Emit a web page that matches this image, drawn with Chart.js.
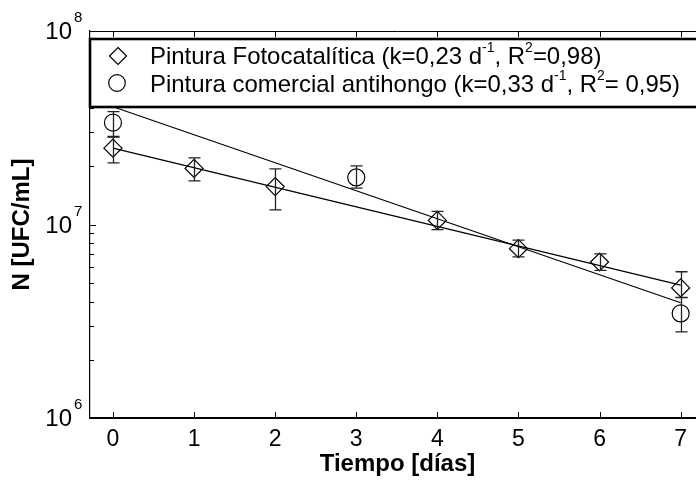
<!DOCTYPE html>
<html lang="es">
<head>
<meta charset="UTF-8">
<title>Inactivación con pinturas</title>
<script src="https://cdn.jsdelivr.net/npm/chart.js"></script>
<style>
  html, body { margin: 0; padding: 0; background: #fff; overflow: hidden; }
  #wrap { width: 720px; height: 481px; }
</style>
</head>
<body>
<div id="wrap"><canvas id="grafico" width="720" height="481"></canvas></div>
<script>
// valores
const fotoDias = [0, 1, 2, 4, 5, 6, 7];
const fotoN    = [2.48e7, 1.95e7, 1.57e7, 1.05e7, 7.5e6, 6.4e6, 4.7e6];
const fotoMin  = [2.08e7, 1.68e7, 1.19e7, 9.4e6, 6.8e6, 5.8e6, 4.2e6];
const fotoMax  = [2.83e7, 2.21e7, 1.94e7, 1.17e7, 8.3e6, 7.05e6, 5.7e6];

const comDias = [0, 3, 7];
const comN    = [3.36e7, 1.75e7, 3.47e6];
const comMin  = [2.85e7, 1.54e7, 2.79e6];
const comMax  = [3.83e7, 2.01e7, 4.19e6];

// rectas de ajuste (extremos)
const ajusteDias = [0, 7];
const fotoAjuste = [2.48e7, 4.86e6];
const comAjuste  = [4.06e7, 3.94e6];

const yTicks = [1e6, 1e7, 1e8];
const yExp   = ['6', '7', '8'];

// textos de la leyenda: [texto, superindice]
const leyenda1 = [['Pintura Fotocatalítica (k=0,23 d', false], ['-1', true], [', R', false], ['2', true], ['=0,98)', false]];
const leyenda2 = [['Pintura comercial antihongo (k=0,33 d', false], ['-1', true], [', R', false], ['2', true], ['= 0,95)', false]];

const FUENTE = '"Liberation Sans", Arial, sans-serif';

function puntos(xs, ys) {
    return xs.map((d, i) => ({ x: d, y: ys[i] }));
}

function anchoTexto(ctx, partes) {
    let w = 0;
    partes.forEach(([t, sup]) => {
        ctx.font = (sup ? '14px ' : '24px ') + FUENTE;
        w += ctx.measureText(t).width;
    });
    return w;
}

function textoLeyenda(ctx, x, yb, partes, sx) {
    ctx.save();
    ctx.translate(x, yb);
    ctx.scale(sx, 1);
    let cx = 0;
    partes.forEach(([t, sup]) => {
        ctx.font = (sup ? '14px ' : '24px ') + FUENTE;
        ctx.fillText(t, cx, sup ? -12 : 0);
        cx += ctx.measureText(t).width;
    });
    ctx.restore();
}

const extras = {
    id: 'extras',
    afterDatasetsDraw(chart) {
        const ctx = chart.ctx, sx = chart.scales.x, sy = chart.scales.y, a = chart.chartArea;
        ctx.save();

        // barras de error
        ctx.strokeStyle = '#222';
        ctx.lineWidth = 1.3;
        function barras(xs, lo, hi) {
            xs.forEach((d, i) => {
                const px = Math.round(sx.getPixelForValue(d)) + 0.5;
                const p1 = sy.getPixelForValue(lo[i]);
                const p2 = sy.getPixelForValue(hi[i]);
                ctx.beginPath();
                ctx.moveTo(px, p1); ctx.lineTo(px, p2);
                ctx.moveTo(px - 6, p1); ctx.lineTo(px + 6, p1);
                ctx.moveTo(px - 6, p2); ctx.lineTo(px + 6, p2);
                ctx.stroke();
            });
        }
        barras(fotoDias, fotoMin, fotoMax);
        barras(comDias, comMin, comMax);

        // marcas de los ejes (hacia adentro)
        ctx.strokeStyle = '#000';
        ctx.lineWidth = 1;
        ctx.beginPath();
        ctx.moveTo(a.left, a.top + 0.5); ctx.lineTo(a.right, a.top + 0.5);
        sx.ticks.forEach(t => {
            const px = Math.round(sx.getPixelForValue(t.value)) + 0.5;
            ctx.moveTo(px, a.bottom); ctx.lineTo(px, a.bottom - 6);
            ctx.moveTo(px, a.top); ctx.lineTo(px, a.top + 6);
        });
        for (let dec = 1e6; dec < 1e8; dec *= 10) {
            for (let m = 1; m < 10; m++) {
                const py = Math.round(sy.getPixelForValue(dec * m)) + 0.5;
                ctx.moveTo(a.left, py); ctx.lineTo(a.left + (m === 1 ? 6 : 4), py);
            }
        }
        ctx.stroke();

        // etiquetas del eje y con exponente
        ctx.fillStyle = '#000';
        yTicks.forEach((v, i) => {
            const py = sy.getPixelForValue(v);
            ctx.font = '24px ' + FUENTE;
            ctx.textAlign = 'right';
            ctx.textBaseline = 'alphabetic';
            ctx.fillText('10', 72, py + 8);
            ctx.font = '15px ' + FUENTE;
            ctx.textAlign = 'left';
            ctx.fillText(yExp[i], 74, py - 9);
        });

        // leyenda
        ctx.fillStyle = '#fff';
        ctx.fillRect(a.left, 39, 700, 68);
        ctx.strokeStyle = '#000';
        ctx.lineWidth = 2.6;
        ctx.strokeRect(a.left, 39, 700, 68);

        ctx.lineWidth = 1.2;
        ctx.beginPath();
        ctx.moveTo(118, 56 - 8.5); ctx.lineTo(126.5, 56); ctx.lineTo(118, 64.5); ctx.lineTo(109.5, 56); ctx.closePath();
        ctx.stroke();
        ctx.beginPath();
        ctx.arc(117, 83, 8.3, 0, Math.PI * 2);
        ctx.stroke();

        ctx.fillStyle = '#000';
        ctx.textAlign = 'left';
        ctx.textBaseline = 'alphabetic';
        const esc = 530 / anchoTexto(ctx, leyenda2);
        textoLeyenda(ctx, 150, 64, leyenda1, esc);
        textoLeyenda(ctx, 150, 92, leyenda2, esc);

        ctx.restore();
    }
};

new Chart(document.getElementById('grafico'), {
    type: 'scatter',
    data: {
        datasets: [
            {
                label: 'Pintura Fotocatalítica',
                data: puntos(fotoDias, fotoN),
                pointStyle: 'rectRot',
                pointRadius: 9,
                borderColor: '#000',
                backgroundColor: 'transparent',
                borderWidth: 1.2,
                showLine: false
            },
            {
                label: 'Pintura comercial antihongo',
                data: puntos(comDias, comN),
                pointStyle: 'circle',
                pointRadius: 8.5,
                borderColor: '#000',
                backgroundColor: 'transparent',
                borderWidth: 1.2,
                showLine: false
            },
            {
                label: 'Ajuste fotocatalítica',
                data: puntos(ajusteDias, fotoAjuste),
                showLine: true,
                pointRadius: 0,
                borderColor: '#000',
                borderWidth: 1.2
            },
            {
                label: 'Ajuste antihongo',
                data: puntos(ajusteDias, comAjuste),
                showLine: true,
                pointRadius: 0,
                borderColor: '#000',
                borderWidth: 1.2
            }
        ]
    },
    options: {
        responsive: false,
        animation: false,
        layout: { padding: { top: 31, right: 15, left: 0, bottom: 0 } },
        plugins: { legend: { display: false }, tooltip: { enabled: false } },
        scales: {
            x: {
                type: 'linear',
                min: -0.283,
                max: 7.3,
                afterFit(s) { s.height = 63; },
                grid: { display: false, drawTicks: false },
                border: { display: true, color: '#000', width: 2 },
                ticks: {
                    stepSize: 1,
                    includeBounds: false,
                    padding: 8,
                    color: '#000',
                    font: { family: FUENTE, size: 23 }
                },
                title: {
                    display: true,
                    text: 'Tiempo [días]',
                    color: '#000',
                    font: { family: FUENTE, size: 24, weight: 'bold' },
                    padding: { top: 0, bottom: 2 }
                }
            },
            y: {
                type: 'logarithmic',
                min: 1e6,
                max: 1e8,
                afterFit(s) { s.width = 90; },
                grid: { display: false, drawTicks: false },
                border: { display: true, color: '#000', width: 1.2 },
                ticks: { display: false },
                title: {
                    display: true,
                    text: 'N [UFC/mL]',
                    color: '#000',
                    font: { family: FUENTE, size: 24, weight: 'bold' },
                    padding: { top: 8, bottom: 0 }
                }
            }
        }
    },
    plugins: [extras]
});
</script>
</body>
</html>
